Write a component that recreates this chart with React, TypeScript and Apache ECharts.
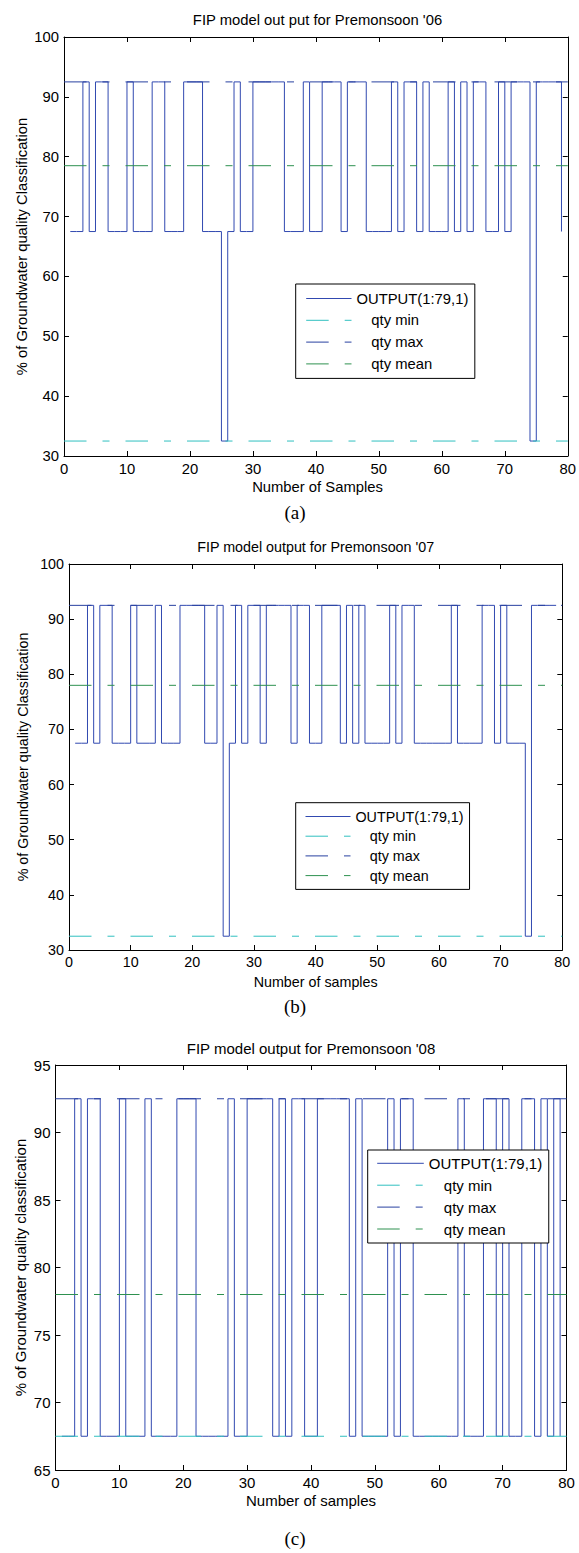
import React, { useEffect, useRef } from "react";
import * as echarts from "echarts";

// ---------------- DATA ----------------
const SERIES_NAMES = ["OUTPUT(1:79,1)", "qty min", "qty max", "qty mean"];

const titles = [
  "FIP model out put for Premonsoon '06",
  "FIP model output for Premonsoon '07",
  "FIP model output for Premonsoon '08",
];
const xLabels = ["Number of Samples", "Number of samples", "Number of samples"];
const yLabels = [
  "% of Groundwater quality Classification",
  "% of Groundwater quality Classification",
  "% of Groundwater quality classification",
];
const captions = ["(a)", "(b)", "(c)"];

const xRange = [0, 80];
const xStep = 10;
const yMin = [30, 30, 65];
const yMax = [100, 100, 95];
const yStep = [10, 10, 5];

// sample values, samples 1..79
const outputA = [
  67.5, 67.5, 92.5, 67.5, 92.5, 92.5, 67.5, 67.5, 67.5, 92.5,
  67.5, 67.5, 67.5, 92.5, 92.5, 67.5, 67.5, 67.5, 92.5, 92.5,
  92.5, 67.5, 67.5, 67.5, 32.5, 67.5, 92.5, 67.5, 67.5, 92.5,
  92.5, 92.5, 92.5, 92.5, 67.5, 67.5, 67.5, 92.5, 67.5, 67.5,
  92.5, 92.5, 92.5, 67.5, 92.5, 92.5, 92.5, 67.5, 67.5, 67.5,
  67.5, 92.5, 67.5, 92.5, 92.5, 67.5, 92.5, 67.5, 67.5, 67.5,
  92.5, 67.5, 92.5, 67.5, 92.5, 92.5, 67.5, 67.5, 92.5, 67.5,
  92.5, 92.5, 92.5, 32.5, 92.5, 92.5, 92.5, 92.5, 67.5,
];
const outputB = [
  67.5, 67.5, 92.5, 67.5, 92.5, 92.5, 67.5, 67.5, 67.5, 92.5,
  67.5, 67.5, 67.5, 92.5, 67.5, 67.5, 67.5, 92.5, 92.5, 92.5,
  92.5, 67.5, 67.5, 92.5, 32.5, 67.5, 92.5, 67.5, 92.5, 92.5,
  67.5, 92.5, 92.5, 92.5, 92.5, 67.5, 92.5, 92.5, 67.5, 67.5,
  92.5, 92.5, 92.5, 67.5, 92.5, 67.5, 92.5, 67.5, 67.5, 67.5,
  67.5, 92.5, 67.5, 92.5, 92.5, 67.5, 67.5, 67.5, 67.5, 67.5,
  67.5, 92.5, 67.5, 67.5, 67.5, 67.5, 92.5, 92.5, 67.5, 92.5,
  67.5, 67.5, 67.5, 32.5, 92.5, 92.5, 92.5, 92.5, 92.5,
];
const outputC = [
  67.5, 67.5, 92.5, 67.5, 92.5, 92.5, 67.5, 67.5, 67.5, 92.5,
  67.5, 67.5, 67.5, 92.5, 67.5, 67.5, 67.5, 67.5, 92.5, 92.5,
  92.5, 67.5, 67.5, 67.5, 67.5, 67.5, 92.5, 67.5, 67.5, 92.5,
  92.5, 92.5, 92.5, 67.5, 92.5, 67.5, 92.5, 92.5, 67.5, 67.5,
  92.5, 92.5, 92.5, 92.5, 92.5, 67.5, 92.5, 67.5, 67.5, 67.5,
  67.5, 92.5, 67.5, 92.5, 92.5, 67.5, 67.5, 67.5, 67.5, 67.5,
  67.5, 67.5, 92.5, 67.5, 67.5, 67.5, 92.5, 92.5, 67.5, 92.5,
  67.5, 67.5, 92.5, 92.5, 67.5, 92.5, 67.5, 92.5, 67.5,
];
const outputs = [outputA, outputB, outputC];

const qtyMin = [32.5, 32.5, 67.5];
const qtyMax = [92.5, 92.5, 92.5];
const qtyMean = [78.5, 78, 78];

// ---------------- LAYOUT / STYLE ----------------
const SANS = "Liberation Sans";
const SERIF = "Liberation Serif";
const C_OUT = "#3149b0";
const C_MIN = "#30c0c0";
const C_MAX = "#2840a0";
const C_MEAN = "#2e9150";
const DASH = [22.5, 16, 7, 16];

const PLOTS = [
  {
    left: 64, top: 37, width: 507, height: 419, font: 14.8,
    titleY: 20, xNameY: 487, captionY: 512, yNameX: 22,
    legend: { left: 295.7, top: 284, pad: [7, 6.5, 7, 10], iw: 45.3, gap: 6.8 },
  },
  {
    left: 69, top: 564, width: 493.3, height: 386, font: 14.3,
    titleY: 547, xNameY: 982, captionY: 1006, yNameX: 23,
    legend: { left: 295.7, top: 802.7, pad: [6.8, 6, 6.8, 9.3], iw: 45, gap: 5.7 },
  },
  {
    left: 55.5, top: 1065, width: 511, height: 405, font: 15,
    titleY: 1048, xNameY: 1500, captionY: 1538, yNameX: 20,
    legend: { left: 367.7, top: 1150, pad: [5.8, 6.6, 6.5, 9], iw: 46.6, gap: 6.9 },
  },
];

function buildOption() {
  const grid: any[] = [];
  const xAxis: any[] = [];
  const yAxis: any[] = [];
  const series: any[] = [];
  const legend: any[] = [];
  const graphic: any[] = [];

  PLOTS.forEach((p, i) => {
    grid.push({ left: p.left, top: p.top, width: p.width, height: p.height, containLabel: false });
    const axisLine = { show: true, onZero: false, lineStyle: { color: "#000", width: 1 } };
    const axisTick = { show: true, inside: true, length: 5, lineStyle: { color: "#000", width: 1 } };
    const xBase = {
      type: "value", gridIndex: i, min: xRange[0], max: xRange[1], interval: xStep,
      splitLine: { show: false }, axisLine, axisTick,
    };
    xAxis.push({
      ...xBase, position: "bottom",
      axisLabel: { show: true, color: "#000", fontSize: p.font, fontFamily: SANS, margin: 5 },
    });
    xAxis.push({ ...xBase, position: "top", axisLabel: { show: false } });
    const yBase = {
      type: "value", gridIndex: i, min: yMin[i], max: yMax[i], interval: yStep[i],
      splitLine: { show: false }, axisLine, axisTick,
    };
    yAxis.push({
      ...yBase, position: "left",
      axisLabel: { show: true, color: "#000", fontSize: p.font, fontFamily: SANS, margin: 5 },
    });
    yAxis.push({ ...yBase, position: "right", axisLabel: { show: false } });

    const xi = i * 2;
    const yi = i * 2;
    series.push({
      name: SERIES_NAMES[0], type: "line", xAxisIndex: xi, yAxisIndex: yi,
      step: "end", symbol: "none", showSymbol: false, z: 2,
      data: outputs[i].map((v, k) => [k + 1, v]),
      lineStyle: { color: C_OUT, width: 1 }, itemStyle: { color: C_OUT },
    });
    const refs = [
      [SERIES_NAMES[1], qtyMin[i], C_MIN],
      [SERIES_NAMES[2], qtyMax[i], C_MAX],
      [SERIES_NAMES[3], qtyMean[i], C_MEAN],
    ];
    refs.forEach(([name, v, c]) => {
      series.push({
        name, type: "line", xAxisIndex: xi, yAxisIndex: yi, symbol: "none", showSymbol: false, z: 3,
        data: [[xRange[0], v], [xRange[1], v]],
        lineStyle: { color: c, width: 1, type: DASH }, itemStyle: { color: c },
      });
    });

    const L = p.legend;
    legend.push({
      data: SERIES_NAMES, orient: "vertical", left: L.left, top: L.top,
      padding: L.pad, itemWidth: L.iw, itemHeight: 14, itemGap: L.gap,
      backgroundColor: "#fff", borderColor: "#000", borderWidth: 1, borderRadius: 0,
      selectedMode: false,
      itemStyle: { opacity: 0, borderWidth: 0 },
      lineStyle: { width: 1, opacity: 1 },
      formatter: (name: string) => (name.indexOf("qty") === 0 ? `{q|${name}}` : name),
      textStyle: {
        color: "#000", fontSize: p.font, fontFamily: SANS,
        rich: { q: { color: "#000", fontSize: p.font, fontFamily: SANS, padding: [0, 0, 0, p.font] } },
      },
    });

    const cx = p.left + p.width / 2;
    const cy = p.top + p.height / 2;
    const txt = (text: string, x: number, y: number, size: number, family: string, rot = 0) => ({
      type: "text", x, y, rotation: rot, silent: true,
      style: {
        text, fill: "#000", fontSize: size, fontFamily: family,
        align: "center", verticalAlign: "middle", textAlign: "center", textVerticalAlign: "middle",
      },
    });
    graphic.push(txt(titles[i], cx, p.titleY, p.font, SANS));
    graphic.push(txt(xLabels[i], cx, p.xNameY, p.font, SANS));
    graphic.push(txt(yLabels[i], p.yNameX, cy, p.font, SANS, Math.PI / 2));
    graphic.push(txt(captions[i], 295, p.captionY, 19, SERIF));
  });

  return {
    animation: false,
    backgroundColor: "#fff",
    textStyle: { fontFamily: SANS },
    grid, xAxis, yAxis, series, legend, graphic,
  };
}

export default function App() {
  const ref = useRef<HTMLDivElement>(null);
  useEffect(() => {
    const chart = echarts.init(ref.current as HTMLDivElement, null, { renderer: "svg" });
    chart.setOption(buildOption() as any);
    return () => chart.dispose();
  }, []);
  return (
    <div
      ref={ref}
      style={{ position: "absolute", left: 0, top: 0, width: 579, height: 1553, background: "#fff" }}
    />
  );
}
